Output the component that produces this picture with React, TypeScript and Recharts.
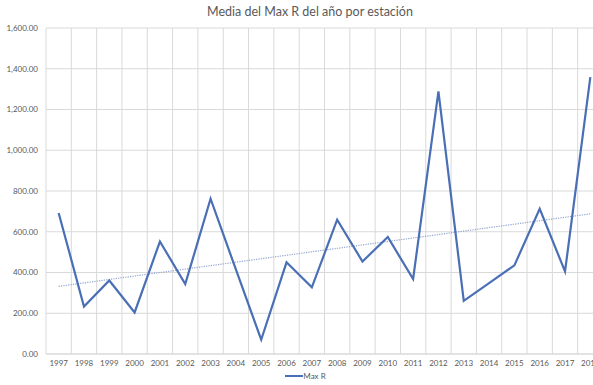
import React from 'react';
import {
  LineChart,
  Line,
  XAxis,
  YAxis,
  CartesianGrid,
  Legend,
  ReferenceLine,
} from 'recharts';

// Años y media anual del Max R
const years = [
  '1997', '1998', '1999', '2000', '2001', '2002', '2003', '2004', '2005', '2006', '2007',
  '2008', '2009', '2010', '2011', '2012', '2013', '2014', '2015', '2016', '2017', '2018',
];
const maxR = [
  692, 233, 361, 204, 552, 343, 762, 415, 70, 450, 327,
  659, 454, 574, 368, 1289, 261, 348, 435, 713, 405, 1359,
];
const yTicks = [0, 200, 400, 600, 800, 1000, 1200, 1400, 1600];

// Extremos de la línea de tendencia lineal
const trendStart = 332;
const trendEnd = 688;

const data = years.map((year, i) => ({ year, maxR: maxR[i] }));

const FONT = 'Lato, "Open Sans", sans-serif';
const TEXT = '#595959';
const GRID = '#d9d9d9';
const BLUE = '#4a6fb5';

const fmt = (v: number) =>
  v.toLocaleString('en-US', { minimumFractionDigits: 2, maximumFractionDigits: 2 });

const LegendContent = () => (
  <div style={{ display: 'flex', justifyContent: 'center', alignItems: 'center', fontFamily: FONT, fontSize: 8, color: TEXT }}>
    <svg width={18} height={6}>
      <line x1={0} y1={3} x2={18} y2={3} stroke={BLUE} strokeWidth={2} />
    </svg>
    <span>Max R</span>
  </div>
);

export default function App() {
  const W = 620;
  const H = 385;
  return (
    <div style={{ position: 'fixed', left: 0, top: 0, width: 593, height: 385, overflow: 'hidden', background: '#fff' }}>
      <div
        style={{
          position: 'absolute',
          top: 4,
          left: 0,
          width: W,
          textAlign: 'center',
          fontFamily: FONT,
          fontSize: 12.5,
          color: TEXT,
        }}
      >
        Media del Max R del año por estación
      </div>
      <LineChart width={W} height={H} data={data} margin={{ top: 28, right: 17, bottom: 0, left: 8 }}>
        <CartesianGrid
          stroke={GRID}
          strokeWidth={1}
          verticalCoordinatesGenerator={({ offset }: any) =>
            Array.from({ length: years.length + 1 }, (_, i) => offset.left + (i * offset.width) / years.length)
          }
        />
        <XAxis
          dataKey="year"
          scale="band"
          interval={0}
          tickLine={false}
          axisLine={{ stroke: GRID }}
          tickSize={0}
          tickMargin={6}
          height={17}
          tick={{ fontFamily: FONT, fontSize: 8, fill: TEXT }}
        />
        <YAxis
          width={38}
          domain={[0, 1600]}
          ticks={yTicks}
          tickFormatter={fmt}
          axisLine={false}
          tickLine={false}
          tickSize={0}
          tickMargin={8}
          tick={{ fontFamily: FONT, fontSize: 8, fill: TEXT }}
        />
        <ReferenceLine
          segment={[
            { x: years[0], y: trendStart },
            { x: years[years.length - 1], y: trendEnd },
          ]}
          stroke="#8fa4cf"
          strokeWidth={1.2}
          strokeDasharray="1.2 1.2"
          ifOverflow="visible"
        />
        <Line
          type="linear"
          dataKey="maxR"
          name="Max R"
          stroke={BLUE}
          strokeWidth={2.2}
          dot={false}
          activeDot={false}
          isAnimationActive={false}
        />
        <Legend verticalAlign="bottom" height={14} content={<LegendContent />} />
      </LineChart>
    </div>
  );
}
